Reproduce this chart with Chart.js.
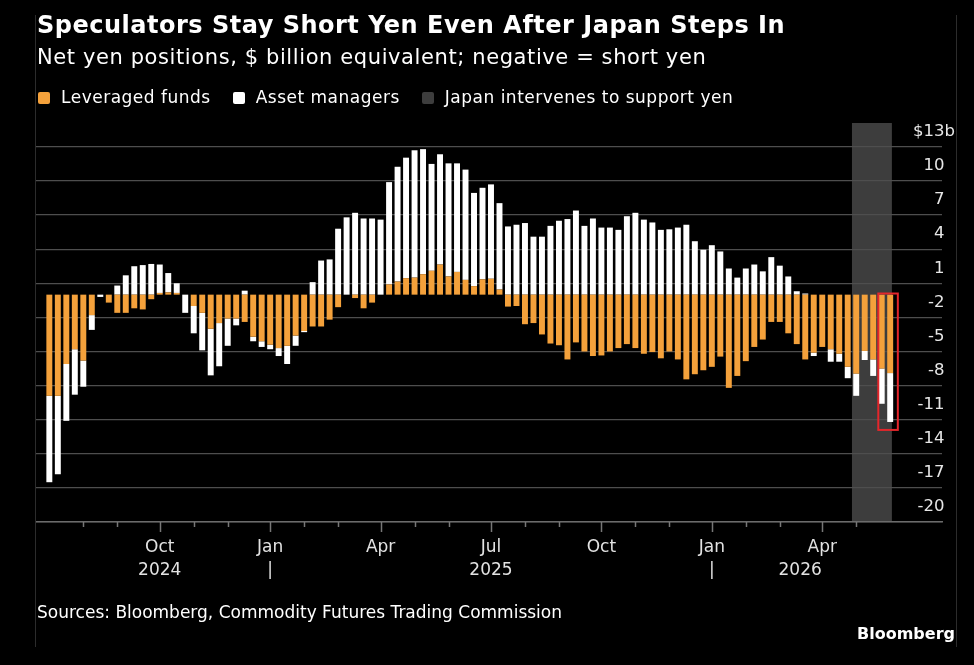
<!DOCTYPE html>
<html>
<head>
<meta charset="utf-8">
<title>Speculators Stay Short Yen Even After Japan Steps In</title>
<script src="https://cdn.jsdelivr.net/npm/chart.js@4.4.1/dist/chart.umd.min.js"></script>
<style>
  html, body { margin: 0; padding: 0; background: #000; }
  body {
    position: relative; width: 974px; height: 665px; overflow: hidden;
    font-family: "DejaVu Sans", sans-serif; color: #fff;
  }
  .frame {
    position: absolute; left: 35px; top: 15px; width: 920px; height: 632px;
    border-left: 1px solid #2c2c2c; border-right: 1px solid #2c2c2c;
  }
  .chart-box { position: absolute; left: 0; top: 0; width: 974px; height: 665px; }
  .title { position: absolute; left: 37px; top: 13px; font-size: 24px; letter-spacing: 0.5px; line-height: 1; font-weight: bold; white-space: nowrap; }
  .subtitle { position: absolute; left: 37px; top: 47px; font-size: 21px; letter-spacing: 0.6px; line-height: 1; white-space: nowrap; }
  .legend { position: absolute; left: 38px; top: 89px; display: flex; font-size: 17px; letter-spacing: 0.5px; line-height: 1; white-space: nowrap; }
  .legend span { display: flex; align-items: center; margin-right: 22px; }
  .legend i { display: inline-block; width: 12px; height: 12px; border-radius: 2px; margin-right: 11px; }
  .source { position: absolute; left: 37px; top: 604px; font-size: 17px; line-height: 1; white-space: nowrap; }
  .brand { position: absolute; right: 19px; top: 626px; font-size: 16px; line-height: 1; font-weight: bold; }
</style>
</head>
<body>
<div class="chart-box"><canvas id="myChart"></canvas></div>
<div class="frame"></div>
<div class="title">Speculators Stay Short Yen Even After Japan Steps In</div>
<div class="subtitle">Net yen positions, $ billion equivalent; negative = short yen</div>
<div class="legend">
  <span><i style="background:#f4a13b"></i>Leveraged funds</span>
  <span><i style="background:#ffffff"></i>Asset managers</span>
  <span><i style="background:#3d3d3d"></i>Japan intervenes to support yen</span>
</div>
<div class="source">Sources: Bloomberg, Commodity Futures Trading Commission</div>
<div class="brand">Bloomberg</div>

<script>
const Positions = document.getElementById('myChart');

// weekly CFTC readings, first week = Jul 2 2024 (index 0)
const levFunds = [
  -8.9, -8.9, -6.1, -4.8, -5.8, -1.8, 0, -0.7, -1.6, -1.6,
  -1.2, -1.3, -0.4, 0.15, 0.2, 0.15, 0, -1.0, -1.6, -3.0,
  -2.5, -2.1, -2.1, -2.4, -3.7, -4.1, -4.4, -4.7, -4.5, -3.6,
  -3.2, -2.8, -2.8, -2.2, -1.1, 0, -0.3, -1.2, -0.7, 0,
  0.9, 1.15, 1.45, 1.5, 1.8, 2.1, 2.65, 1.6, 2.0, 1.3,
  0.75, 1.35, 1.4, 0.45, -1.05, -1.0, -2.6, -2.5, -3.5, -4.3,
  -4.45, -5.7, -4.2, -5.0, -5.4, -5.35, -5.0, -4.7, -4.35, -4.7,
  -5.2, -5.05, -5.6, -5.0, -5.7, -7.45, -7.0, -6.65, -6.35, -5.45,
  -8.2, -7.15, -5.85, -4.6, -3.95, -2.4, -2.4, -3.4, -4.35, -5.7,
  -5.1, -4.6, -4.8, -5.2, -6.35, -6.95, -4.95, -5.7, -6.5, -6.9
];
const assetManagers = [
  -7.6, -6.9, -5.0, -4.0, -2.3, -1.3, -0.2, 0, 0.8, 1.7,
  2.5, 2.6, 2.7, 2.5, 1.7, 0.85, -1.6, -2.4, -3.3, -4.1,
  -3.8, -2.4, -0.6, 0.35, -0.4, -0.5, -0.4, -0.7, -1.6, -0.9,
  -0.1, 1.1, 3.0, 3.1, 5.8, 6.8, 7.2, 6.7, 6.7, 6.6,
  9.0, 10.1, 10.6, 11.2, 11.0, 9.4, 9.7, 9.95, 9.55, 9.7,
  8.2, 8.05, 8.3, 7.6, 6.0, 6.15, 6.3, 5.1, 5.1, 6.05,
  6.5, 6.65, 7.4, 6.05, 6.7, 5.9, 5.9, 5.7, 6.9, 7.2,
  6.6, 6.35, 5.7, 5.75, 5.9, 6.15, 4.7, 3.95, 4.35, 3.8,
  2.3, 1.5, 2.3, 2.65, 2.05, 3.3, 2.55, 1.6, 0.3, 0.1,
  -0.3, 0, -1.1, -0.7, -1.0, -1.95, -0.8, -1.45, -3.1, -4.3
];

const yTicks = [-20, -17, -14, -11, -8, -5, -2, 1, 4, 7, 10, 13];
const xTickWeeks = [13, 26, 39, 52, 65, 78, 88.4, 91];
const xTickMonths = ['Oct', 'Jan', 'Apr', 'Jul', 'Oct', 'Jan', '', 'Apr'];
const xTickYears = ['2024', '|', '', '2025', '', '|', '2026', ''];
const majorTickWeeks = [13, 26, 39, 52, 65, 78, 91];
const minorTickWeeks = [4, 8, 17, 21, 30, 34, 43, 47, 56, 60, 69, 73, 82, 86, 95];

// annotations, in week / $bn units
const interventionWeeks = [94.5, 99.2];
const highlightWeeks = [97.6, 99.9];
const highlightValues = [0.1, -11.9];

const FONT = '"DejaVu Sans", sans-serif';

const overlays = {
    id: 'overlays',
    beforeDraw(chart) {
        const { ctx, chartArea, scales: { x } } = chart;
        const left = x.getPixelForValue(interventionWeeks[0]);
        const right = x.getPixelForValue(interventionWeeks[1]);
        ctx.save();
        ctx.fillStyle = '#3d3d3d';
        ctx.fillRect(left, chartArea.top, right - left, chartArea.bottom - chartArea.top);
        ctx.restore();
    },
    afterDraw(chart) {
        const { ctx, chartArea, scales: { x, y } } = chart;
        ctx.save();
        // month tick marks under the axis
        ctx.strokeStyle = '#777';
        ctx.lineWidth = 1.5;
        const drawTick = (week, len) => {
            const px = Math.round(x.getPixelForValue(week)) + 0.5;
            ctx.beginPath();
            ctx.moveTo(px, chartArea.bottom);
            ctx.lineTo(px, chartArea.bottom + len);
            ctx.stroke();
        };
        majorTickWeeks.forEach(w => drawTick(w, 10));
        minorTickWeeks.forEach(w => drawTick(w, 5));

        // red box round the latest two weeks
        const bx1 = x.getPixelForValue(highlightWeeks[0]);
        const bx2 = x.getPixelForValue(highlightWeeks[1]);
        const by1 = y.getPixelForValue(highlightValues[0]);
        const by2 = y.getPixelForValue(highlightValues[1]);
        ctx.strokeStyle = '#e3262b';
        ctx.lineWidth = 2;
        ctx.strokeRect(bx1, by1, bx2 - bx1, by2 - by1);
        ctx.restore();
    }
};

function createChart() {
    new Chart(Positions, {
        type: 'bar',
        data: {
            datasets: [{
                label: 'Leveraged funds',
                data: levFunds.map((v, i) => ({ x: i, y: v })),
                backgroundColor: '#f4a13b',
                borderWidth: 0,
                barPercentage: 0.7,
                categoryPercentage: 1
            }, {
                label: 'Asset managers',
                data: assetManagers.map((v, i) => ({ x: i, y: v })),
                backgroundColor: '#ffffff',
                borderWidth: 0,
                barPercentage: 0.7,
                categoryPercentage: 1
            }]
        },
        options: {
            responsive: true,
            maintainAspectRatio: false,
            animation: false,
            layout: { padding: { left: 36, right: 32, top: 123, bottom: 83 } },
            plugins: {
                legend: { display: false },
                tooltip: { enabled: false }
            },
            scales: {
                x: {
                    type: 'linear',
                    offset: false,
                    stacked: true,
                    min: -1.57,
                    max: 105.1,
                    grid: { display: false },
                    border: { display: true, color: '#6b6b6b', width: 1.5 },
                    afterBuildTicks: scale => {
                        scale.ticks = xTickWeeks.map(v => ({ value: v }));
                    },
                    afterFit: scale => { scale.height = 60; },
                    ticks: {
                        autoSkip: false,
                        maxRotation: 0,
                        padding: 7,
                        color: '#e2e2e2',
                        font: { family: FONT, size: 17, lineHeight: 1.3 },
                        callback: (value, i) => [xTickMonths[i], xTickYears[i]]
                    }
                },
                y: {
                    position: 'right',
                    stacked: true,
                    min: -20,
                    max: 15.1,
                    afterBuildTicks: scale => {
                        scale.ticks = yTicks.map(v => ({ value: v }));
                    },
                    afterFit: scale => { scale.width = 0; },
                    grid: { color: '#4e4e4e', lineWidth: 1.2, drawTicks: false },
                    border: { display: false },
                    ticks: {
                        mirror: true,
                        padding: 13,
                        labelOffset: -15,
                        color: '#e6e6e6',
                        font: { family: FONT, size: 16.5 },
                        callback: v => v === 13 ? '$13b' : v + '\u2007'
                    }
                }
            }
        },
        plugins: [overlays]
    });
}

createChart();
</script>
</body>
</html>
